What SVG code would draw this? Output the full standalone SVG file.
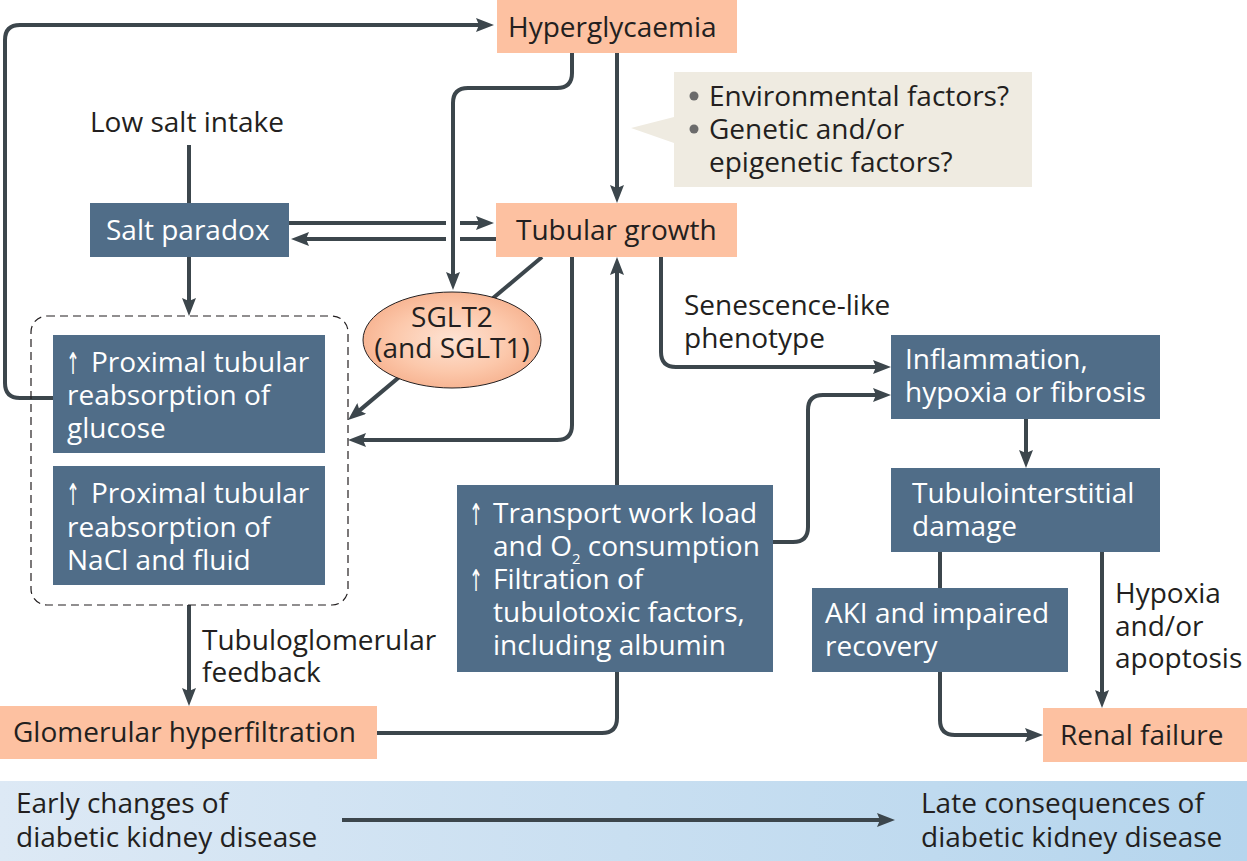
<svg xmlns="http://www.w3.org/2000/svg" width="1247" height="861" viewBox="0 0 1247 861">
<defs>
<style>
text{font-family:"Open Sans","Liberation Sans",Arial,sans-serif;font-size:28px;fill:#231f20}
.w{fill:#ffffff}
.up{font-family:"DejaVu Sans",sans-serif;font-size:30px;fill:#ffffff}
.sal{fill:#fdc1a1}
.sla{fill:#506d88}
.ln{fill:none;stroke:#3c464c;stroke-width:4}
.arr{marker-end:url(#ah)}
</style>
<marker id="ah" markerUnits="userSpaceOnUse" viewBox="0 0 18 14" markerWidth="18" markerHeight="14" refX="8" refY="7" orient="auto">
<path d="M0,0 L18,7 L0,14 L3,7 Z" fill="#3c464c"/>
</marker>
<radialGradient id="eg" cx="50%" cy="50%" r="55%">
<stop offset="0" stop-color="#fde3d4"/>
<stop offset="0.6" stop-color="#fcc8ab"/>
<stop offset="1" stop-color="#f6b08d"/>
</radialGradient>
<linearGradient id="bg" x1="0" y1="0" x2="1" y2="0">
<stop offset="0" stop-color="#dde9f5"/>
<stop offset="1" stop-color="#b5d5ed"/>
</linearGradient>
</defs>

<rect id="band" x="0" y="781" width="1247" height="80" fill="url(#bg)"/>

<g id="connectors">
<path class="ln arr" d="M53,398 H20 Q5,398 5,383 V40 Q5,25 20,25 H484"/>
<path class="ln arr" d="M617,53 V193"/>
<path class="ln" d="M189,145 V203"/>
<path class="ln arr" d="M289,223 H484"/>
<path class="ln arr" d="M496,239 H301"/>
<line x1="453" y1="214" x2="453" y2="248" stroke="#ffffff" stroke-width="14"/>
<path class="ln arr" d="M572,53 V73 Q572,88 557,88 H468 Q453,88 453,103 V280"/>
<path class="ln arr" d="M189,257 V306"/>
<path class="ln arr" d="M542,257 L355.7,413.6"/>
<path class="ln arr" d="M572,257 V425 Q572,440 557,440 H358"/>
<path class="ln arr" d="M189,605 V696"/>
<path class="ln arr" d="M377,733 H602 Q617,733 617,718 V267"/>
<path class="ln arr" d="M773,542 H793 Q808,542 808,527 V410 Q808,395 823,395 H881"/>
<path class="ln arr" d="M661,257 V352 Q661,367 676,367 H881"/>
<path class="ln arr" d="M1026,419 V458"/>
<path class="ln arr" d="M940,552 V720 Q940,735 955,735 H1033"/>
<path class="ln arr" d="M1102,552 V698"/>
<path class="ln arr" d="M342,820 H885"/>
</g>

<g id="hyperglycaemia">
<rect class="sal" x="497" y="0" width="240" height="53"/>
<text x="508" y="37">Hyperglycaemia</text>
</g>

<g id="callout">
<path d="M674,72 H1032 V187 H674 V143 L631,128 L674,117 Z" fill="#efebe1"/>
<circle cx="694" cy="96" r="4.5" fill="#6b6b6b"/>
<circle cx="694" cy="129" r="4.5" fill="#6b6b6b"/>
<text x="709" y="106">Environmental factors?</text>
<text x="709" y="139">Genetic and/or</text>
<text x="709" y="172">epigenetic factors?</text>
</g>

<g id="low-salt">
<text x="90" y="132">Low salt intake</text>
</g>

<g id="salt-paradox">
<rect class="sla" x="90" y="203" width="199" height="54"/>
<text class="w" x="106" y="240">Salt paradox</text>
</g>

<g id="tubular-growth">
<rect class="sal" x="496" y="203" width="241" height="54"/>
<text x="516" y="240">Tubular growth</text>
</g>

<g id="sglt2">
<ellipse cx="452" cy="340" rx="89" ry="48" fill="url(#eg)" stroke="#231f20" stroke-width="1"/>
<text x="452" y="327" text-anchor="middle" font-size="27">SGLT2</text>
<text x="452" y="358" text-anchor="middle" font-size="27">(and SGLT1)</text>
</g>

<g id="proximal-group">
<rect x="31" y="316" width="317" height="289" rx="16" fill="none" stroke="#231f20" stroke-width="1.2" stroke-dasharray="8,5"/>
</g>

<g id="glucose-reabsorption">
<rect class="sla" x="53" y="335" width="272" height="118"/>
<text class="up" transform="translate(66,374) scale(0.55,1)">↑</text>
<text class="w" x="91" y="372">Proximal tubular</text>
<text class="w" x="67" y="405">reabsorption of</text>
<text class="w" x="67" y="438">glucose</text>
</g>

<g id="nacl-reabsorption">
<rect class="sla" x="53" y="466" width="272" height="119"/>
<text class="up" transform="translate(66,505) scale(0.55,1)">↑</text>
<text class="w" x="91" y="503">Proximal tubular</text>
<text class="w" x="67" y="537">reabsorption of</text>
<text class="w" x="67" y="570">NaCl and fluid</text>
</g>

<g id="tgf-label">
<text x="202" y="650">Tubuloglomerular</text>
<text x="202" y="682">feedback</text>
</g>

<g id="glomerular-hyperfiltration">
<rect class="sal" x="0" y="706" width="377" height="53"/>
<text x="13" y="742">Glomerular hyperfiltration</text>
</g>

<g id="transport">
<rect class="sla" x="457" y="485" width="316" height="187"/>
<text class="up" transform="translate(469,525) scale(0.55,1)">↑</text>
<text class="w" x="493" y="523">Transport work load</text>
<text class="w" x="493" y="556">and O<tspan font-size="15" dy="8">2</tspan><tspan dy="-8"> consumption</tspan></text>
<text class="up" transform="translate(469,591) scale(0.55,1)">↑</text>
<text class="w" x="493" y="589">Filtration of</text>
<text class="w" x="493" y="622">tubulotoxic factors,</text>
<text class="w" x="493" y="655">including albumin</text>
</g>

<g id="senescence-label">
<text x="684" y="315">Senescence-like</text>
<text x="684" y="348">phenotype</text>
</g>

<g id="inflammation">
<rect class="sla" x="891" y="335" width="269" height="84"/>
<text class="w" x="905" y="369">Inflammation,</text>
<text class="w" x="905" y="402">hypoxia or fibrosis</text>
</g>

<g id="tubulointerstitial">
<rect class="sla" x="891" y="468" width="269" height="84"/>
<text class="w" x="912" y="503">Tubulointerstitial</text>
<text class="w" x="912" y="536">damage</text>
</g>

<g id="aki">
<rect class="sla" x="812" y="588" width="256" height="84"/>
<text class="w" x="825" y="623">AKI and impaired</text>
<text class="w" x="825" y="656">recovery</text>
</g>

<g id="hypoxia-label">
<text x="1115" y="603">Hypoxia</text>
<text x="1115" y="636">and/or</text>
<text x="1115" y="668">apoptosis</text>
</g>

<g id="renal-failure">
<rect class="sal" x="1043" y="708" width="204" height="54"/>
<text x="1060" y="745">Renal failure</text>
</g>

<g id="band-labels">
<text x="16" y="813">Early changes of</text>
<text x="16" y="847">diabetic kidney disease</text>
<text x="921" y="813">Late consequences of</text>
<text x="921" y="847">diabetic kidney disease</text>
</g>
</svg>
